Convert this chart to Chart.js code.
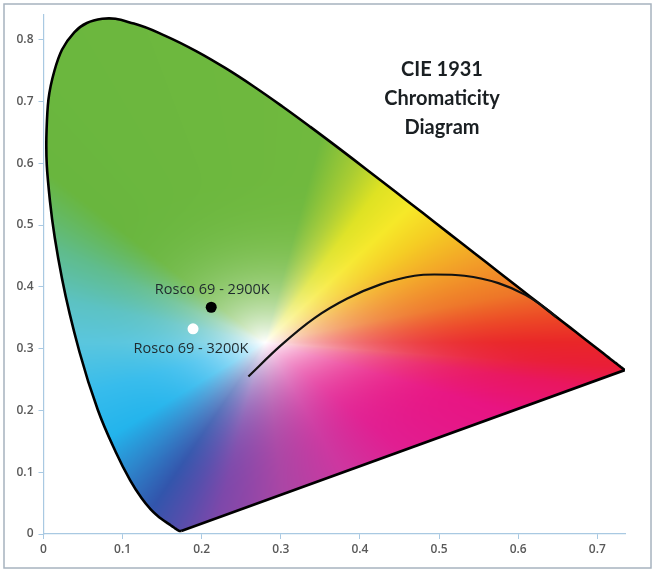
<!DOCTYPE html>
<html>
<head>
<meta charset="utf-8">
<script src="https://cdn.jsdelivr.net/npm/chart.js@4.4.1/dist/chart.umd.min.js"></script>
<style>
  html, body { margin: 0; padding: 0; background: #fff; }
  canvas { display: block; }
</style>
</head>
<body>
<canvas id="cie" width="655" height="572"></canvas>
<script>
// spectral locus, 380-700 nm in 5 nm steps
const locusX = [0.1741, 0.1740, 0.1738, 0.1736, 0.1733, 0.1730, 0.1726, 0.1721, 0.1714, 0.1703,
  0.1689, 0.1669, 0.1644, 0.1611, 0.1566, 0.1510, 0.1440, 0.1355, 0.1241, 0.1096,
  0.0913, 0.0687, 0.0454, 0.0235, 0.0082, 0.0039, 0.0139, 0.0389, 0.0743, 0.1142,
  0.1547, 0.1929, 0.2296, 0.2658, 0.3016, 0.3373, 0.3731, 0.4087, 0.4441, 0.4788,
  0.5125, 0.5448, 0.5752, 0.6029, 0.6270, 0.6482, 0.6658, 0.6801, 0.6915, 0.7006,
  0.7079, 0.7140, 0.7190, 0.7230, 0.7260, 0.7283, 0.7300, 0.7311, 0.7320, 0.7327,
  0.7334, 0.7340, 0.7344, 0.7346, 0.7347];
const locusY = [0.0050, 0.0050, 0.0049, 0.0049, 0.0048, 0.0048, 0.0048, 0.0048, 0.0051, 0.0058,
  0.0069, 0.0086, 0.0109, 0.0138, 0.0177, 0.0227, 0.0297, 0.0399, 0.0578, 0.0868,
  0.1327, 0.2007, 0.2950, 0.4127, 0.5384, 0.6548, 0.7502, 0.8120, 0.8338, 0.8262,
  0.8059, 0.7816, 0.7543, 0.7243, 0.6923, 0.6589, 0.6245, 0.5896, 0.5547, 0.5202,
  0.4866, 0.4544, 0.4242, 0.3965, 0.3725, 0.3514, 0.3340, 0.3197, 0.3083, 0.2993,
  0.2920, 0.2859, 0.2809, 0.2770, 0.2740, 0.2717, 0.2700, 0.2689, 0.2680, 0.2673,
  0.2666, 0.2660, 0.2656, 0.2654, 0.2653];

// curve
const curveX = [0.259, 0.299, 0.342, 0.384, 0.426, 0.469, 0.494, 0.532, 0.575, 0.609, 0.638, 0.648];
const curveY = [0.255, 0.304, 0.349, 0.381, 0.404, 0.418, 0.420, 0.418, 0.406, 0.387, 0.362, 0.351];

const sampleNames = ['Rosco 69 - 2900K', 'Rosco 69 - 3200K'];
const sampleX = [0.212, 0.189];
const sampleY = [0.367, 0.332];

const xTicks = [0, 0.1, 0.2, 0.3, 0.4, 0.5, 0.6, 0.7];
const xTickLabels = ['0', '0.1', '0.2', '0.3', '0.4', '0.5', '0.6', '0.7'];
const yTicks = [0, 0.1, 0.2, 0.3, 0.4, 0.5, 0.6, 0.7, 0.8];
const yTickLabels = ['0', '0.1', '0.2', '0.3', '0.4', '0.5', '0.6', '0.7', '0.8'];

const titleLines = ['CIE 1931', 'Chromaticity', 'Diagram'];

const axisColor = '#a9c9e2';
const white = [0.28, 0.31];

// hue (degrees round the white point) -> colour at full strength
const hueStops = [
  [0, 233, 38, 40], [6, 236, 70, 38], [14, 238, 118, 40], [26, 242, 158, 40],
  [40, 245, 205, 35], [50, 246, 232, 40], [60, 222, 226, 35], [68, 170, 205, 50],
  [78, 112, 185, 62], [135, 105, 182, 62], [150, 95, 188, 140], [165, 92, 194, 195],
  [180, 90, 198, 222], [200, 55, 188, 236], [218, 35, 180, 236], [230, 45, 135, 205],
  [242, 50, 85, 172], [250, 85, 78, 172], [258, 125, 72, 170], [275, 170, 70, 165],
  [295, 205, 55, 160], [315, 225, 30, 145], [340, 232, 20, 130], [350, 233, 22, 95],
  [355, 233, 30, 55], [360, 233, 38, 40]
];

function hueColor(deg) {
  for (let i = 1; i < hueStops.length; i++) {
    if (deg <= hueStops[i][0]) {
      const a = hueStops[i - 1], b = hueStops[i];
      const t = (deg - a[0]) / (b[0] - a[0]);
      return [a[1] + (b[1] - a[1]) * t, a[2] + (b[2] - a[2]) * t, a[3] + (b[3] - a[3]) * t];
    }
  }
  return hueStops[0].slice(1);
}

// distance over which the colour reaches full strength, per quarter degree
const BINS = 1440;
const edgeDist = new Float32Array(BINS);
(function () {
  const n = locusX.length;
  for (let b = 0; b < BINS; b++) {
    const a = (b + 0.5) / BINS * 2 * Math.PI;
    const cx = Math.cos(a), cy = Math.sin(a);
    let best = 1;
    for (let i = 0; i < n; i++) {
      const j = (i + 1) % n;
      const ax = locusX[i] - white[0], ay = locusY[i] - white[1];
      const ex = locusX[j] - locusX[i], ey = locusY[j] - locusY[i];
      const den = cx * ey - cy * ex;
      if (Math.abs(den) < 1e-12) continue;
      const t = (ax * ey - ay * ex) / den;
      const u = (ax * cy - ay * cx) / den;
      if (t > 0 && u >= 0 && u <= 1 && t < best) best = t;
    }
    const c = Math.max(0, Math.cos(a - 10 * Math.PI / 180));
    edgeDist[b] = Math.min(best, 0.3 + 0.2 * Math.pow(c, 4));
  }
})();

const locusPoints = locusX.map((x, i) => ({ x: x, y: locusY[i] }));
const purplePoints = [locusPoints[locusPoints.length - 1], locusPoints[0]];

function locusPath(chart, ctx) {
  const meta = chart.getDatasetMeta(0);
  const line = meta.dataset;
  ctx.beginPath();
  if (line && typeof line.path === 'function') {
    if (typeof line.updateControlPoints === 'function') line.updateControlPoints(chart.chartArea);
    line.path(ctx);
  } else {
    meta.data.forEach((p, i) => (i === 0 ? ctx.moveTo(p.x, p.y) : ctx.lineTo(p.x, p.y)));
  }
  const first = meta.data[0];
  ctx.lineTo(first.x, first.y);
  ctx.closePath();
}

const gamutFill = {
  id: 'gamutFill',
  beforeDatasetsDraw(chart) {
    const { ctx, chartArea, scales } = chart;
    const xs = scales.x, ys = scales.y;
    const w = Math.ceil(chartArea.right - chartArea.left) + 4;
    const h = Math.ceil(chartArea.bottom - chartArea.top) + 4;
    const off = document.createElement('canvas');
    off.width = w; off.height = h;
    const octx = off.getContext('2d');
    const img = octx.createImageData(w, h);
    const ox = Math.floor(chartArea.left) - 2, oy = Math.floor(chartArea.top) - 2;
    for (let j = 0; j < h; j++) {
      const vy = ys.getValueForPixel(oy + j + 0.5);
      for (let i = 0; i < w; i++) {
        const vx = xs.getValueForPixel(ox + i + 0.5);
        const dx = vx - white[0], dy = vy - white[1];
        let ang = Math.atan2(dy, dx);
        if (ang < 0) ang += 2 * Math.PI;
        const deg = ang * 180 / Math.PI;
        const d = Math.sqrt(dx * dx + dy * dy);
        const db = edgeDist[Math.min(BINS - 1, Math.floor(ang / (2 * Math.PI) * BINS))];
        const t = Math.min(1, d / db);
        const s = 1 - Math.pow(1 - t, 3.2);
        const c = hueColor(deg);
        const k = (j * w + i) * 4;
        img.data[k] = 255 + (c[0] - 255) * s;
        img.data[k + 1] = 255 + (c[1] - 255) * s;
        img.data[k + 2] = 255 + (c[2] - 255) * s;
        img.data[k + 3] = 255;
      }
    }
    octx.putImageData(img, 0, 0);
    ctx.save();
    locusPath(chart, ctx);
    ctx.clip();
    ctx.drawImage(off, ox, oy);
    ctx.restore();
  }
};

const textLayer = {
  id: 'textLayer',
  beforeDraw(chart) {
    const ctx = chart.ctx;
    ctx.save();
    ctx.fillStyle = '#fff';
    ctx.fillRect(0, 0, chart.width, chart.height);
    ctx.strokeStyle = '#a7b3bf';
    ctx.lineWidth = 1.5;
    ctx.strokeRect(4, 4, chart.width - 8, chart.height - 8);
    ctx.restore();
  },
  afterDraw(chart) {
    const { ctx, scales } = chart;
    ctx.save();
    ctx.fillStyle = '#1a1f22';
    ctx.textAlign = 'center';
    ctx.textBaseline = 'middle';
    ctx.font = 'bold 20px Lato, "Open Sans", sans-serif';
    titleLines.forEach((t, i) => ctx.fillText(t, 442, 70 + i * 29));
    ctx.font = '14.5px "Open Sans", Lato, sans-serif';
    ctx.fillStyle = '#1f2a2e';
    const px0 = scales.x.getPixelForValue(sampleX[0]), py0 = scales.y.getPixelForValue(sampleY[0]);
    ctx.fillText(sampleNames[0], px0 + 1, py0 - 17);
    const px1 = scales.x.getPixelForValue(sampleX[1]), py1 = scales.y.getPixelForValue(sampleY[1]);
    ctx.fillText(sampleNames[1], px1 - 2, py1 + 20);
    ctx.restore();
  }
};

new Chart(document.getElementById('cie').getContext('2d'), {
  type: 'scatter',
  data: {
    datasets: [{
      label: 'Spectral locus',
      data: locusPoints,
      showLine: true,
      tension: 0.4,
      borderColor: '#000',
      borderWidth: 2.6,
      pointRadius: 0,
      order: 3
    }, {
      label: 'Line of purples',
      data: purplePoints,
      showLine: true,
      borderColor: '#000',
      borderWidth: 2.6,
      pointRadius: 0,
      order: 3
    }, {
      label: 'Curve',
      data: curveX.map((x, i) => ({ x: x, y: curveY[i] })),
      showLine: true,
      borderColor: '#111',
      borderWidth: 2.2,
      cubicInterpolationMode: 'monotone',
      pointRadius: 0,
      order: 2
    }, {
      label: sampleNames[0],
      data: [{ x: sampleX[0], y: sampleY[0] }],
      pointRadius: 5.5,
      pointBackgroundColor: '#000',
      pointBorderWidth: 0,
      order: 1
    }, {
      label: sampleNames[1],
      data: [{ x: sampleX[1], y: sampleY[1] }],
      pointRadius: 5.5,
      pointBackgroundColor: '#fff',
      pointBorderWidth: 0,
      order: 1
    }]
  },
  options: {
    responsive: false,
    animation: false,
    layout: { padding: { left: 5, top: 15, right: 30, bottom: 0 } },
    plugins: {
      legend: { display: false },
      tooltip: { enabled: false }
    },
    scales: {
      x: {
        type: 'linear',
        min: 0,
        max: 0.735,
        afterBuildTicks: (scale) => { scale.ticks = xTicks.map(v => ({ value: v })); },
        afterFit: (scale) => { scale.height = 38; },
        grid: { drawOnChartArea: false, drawTicks: true, tickLength: 5, color: axisColor },
        border: { display: true, color: axisColor, width: 1.2 },
        ticks: {
          padding: 3,
          color: '#595959',
          font: { family: '"Open Sans", sans-serif', size: 12, weight: '600' },
          callback: (v) => xTickLabels[xTicks.indexOf(v)] ?? ''
        }
      },
      y: {
        type: 'linear',
        min: 0,
        max: 0.84,
        afterBuildTicks: (scale) => { scale.ticks = yTicks.map(v => ({ value: v })); },
        afterFit: (scale) => { scale.width = 38.5; },
        grid: { drawOnChartArea: false, drawTicks: true, tickLength: 5, color: axisColor },
        border: { display: true, color: axisColor, width: 1.2 },
        ticks: {
          padding: 5,
          color: '#595959',
          font: { family: '"Open Sans", sans-serif', size: 12, weight: '600' },
          callback: (v) => yTickLabels[yTicks.indexOf(v)] ?? ''
        }
      }
    }
  },
  plugins: [gamutFill, textLayer]
});
</script>
</body>
</html>
